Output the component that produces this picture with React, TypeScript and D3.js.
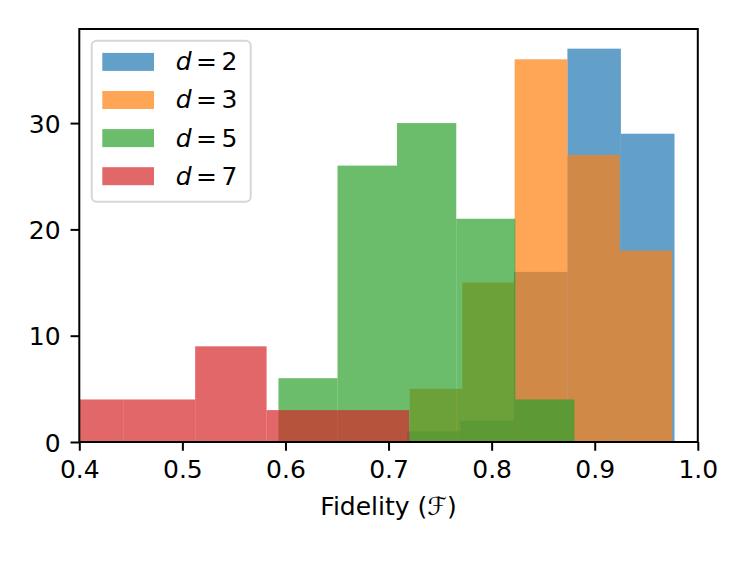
import { useEffect, useRef } from 'react';
import * as d3 from 'd3';

// bin edges (fidelity) and counts, per code distance
const d2Edges = [0.7177, 0.7696, 0.8216, 0.8735, 0.9254, 0.9774];
const d2Counts = [1, 2, 16, 37, 29];

const d3Edges = [0.7206, 0.7716, 0.8223, 0.8735, 0.9243, 0.9751];
const d3Counts = [5, 15, 36, 27, 18];

const d5Edges = [0.5932, 0.6505, 0.7082, 0.7657, 0.8230, 0.8803];
const d5Counts = [6, 26, 30, 21, 4];

const d7Edges = [0.3740, 0.4432, 0.5124, 0.5817, 0.6509, 0.7201];
const d7Counts = [4, 4, 9, 3, 3];

const seriesLabels = ['2', '3', '5', '7'];
const colors = ['#1f77b4', '#ff7f0e', '#2ca02c', '#d62728'];

const xTicks = [0.4, 0.5, 0.6, 0.7, 0.8, 0.9, 1.0];
const yTicks = [0, 10, 20, 30];

export default function App() {
  const svgRef = useRef<SVGSVGElement>(null);

  useEffect(() => {
    const svg = d3.select(svgRef.current);
    svg.selectAll('*').remove();

    const width = 747;
    const height = 561;
    const left = 79.3, right = 697.8, top = 29, bottom = 442;
    const font = 'DejaVu Sans, sans-serif';

    const x = d3.scaleLinear().domain([0.4, 1.0]).range([left, right]);
    const y = d3.scaleLinear().domain([0, 38.85]).range([bottom, top]);

    svg.attr('width', width).attr('height', height);

    svg.append('defs').append('clipPath').attr('id', 'plot-clip')
      .append('rect')
      .attr('x', left).attr('y', top)
      .attr('width', right - left).attr('height', bottom - top);

    const all = [
      { edges: d2Edges, counts: d2Counts },
      { edges: d3Edges, counts: d3Counts },
      { edges: d5Edges, counts: d5Counts },
      { edges: d7Edges, counts: d7Counts },
    ];

    const bars = svg.append('g').attr('clip-path', 'url(#plot-clip)');
    all.forEach((s, i) => {
      const bins = s.counts.map((c, j) => ({ x0: s.edges[j], x1: s.edges[j + 1], c }));
      bars.append('g')
        .attr('fill', colors[i])
        .attr('fill-opacity', 0.7)
        .selectAll('rect')
        .data(bins)
        .join('rect')
        .attr('x', d => x(d.x0))
        .attr('y', d => y(d.c))
        .attr('width', d => x(d.x1) - x(d.x0))
        .attr('height', d => y(0) - y(d.c));
    });

    const xAxis = svg.append('g')
      .attr('transform', `translate(0, ${bottom})`)
      .call(d3.axisBottom(x).tickValues(xTicks).tickFormat(d3.format('.1f'))
        .tickSize(8.75).tickSizeOuter(0).tickPadding(9.5));
    const yAxis = svg.append('g')
      .attr('transform', `translate(${left}, 0)`)
      .call(d3.axisLeft(y).tickValues(yTicks).tickFormat(d3.format('d'))
        .tickSize(8.75).tickSizeOuter(0).tickPadding(10));

    [xAxis, yAxis].forEach(a => {
      a.select('.domain').remove();
      a.selectAll('line').attr('stroke', '#000').attr('stroke-width', 2);
      a.selectAll('text')
        .attr('fill', '#000')
        .style('font-family', font)
        .style('font-size', '25px');
    });
    yAxis.selectAll('text').attr('dy', '0.36em');

    svg.append('rect')
      .attr('x', left).attr('y', top)
      .attr('width', right - left).attr('height', bottom - top)
      .attr('fill', 'none').attr('stroke', '#000').attr('stroke-width', 2);

    svg.append('text')
      .attr('x', (left + right) / 2)
      .attr('y', 515)
      .attr('text-anchor', 'middle')
      .style('font-family', font)
      .style('font-size', '25px')
      .text('Fidelity (ℱ)');

    // legend
    const legend = svg.append('g');
    legend.append('rect')
      .attr('x', 91.7).attr('y', 40.7)
      .attr('width', 159).attr('height', 161)
      .attr('rx', 5)
      .attr('fill', '#fff').attr('fill-opacity', 0.8)
      .attr('stroke', '#d6d6d6').attr('stroke-width', 2);

    seriesLabels.forEach((lab, i) => {
      const cy = 61.9 + i * 38.1;
      const row = legend.append('g');
      row.append('rect')
        .attr('x', 102.3).attr('y', cy - 9)
        .attr('width', 51.7).attr('height', 18)
        .attr('fill', colors[i]).attr('fill-opacity', 0.7);
      const t = row.append('text')
        .attr('x', 175.7).attr('y', cy + 8.4)
        .style('font-family', font)
        .style('font-size', '25px');
      t.append('tspan').attr('font-style', 'italic').text('d');
      t.append('tspan').attr('dx', 4.5).text('=');
      t.append('tspan').attr('dx', 4.5).text(lab);
    });
  }, []);

  return (
    <div style={{ position: 'absolute', left: 0, top: 0 }}>
      <svg ref={svgRef}></svg>
    </div>
  );
}
